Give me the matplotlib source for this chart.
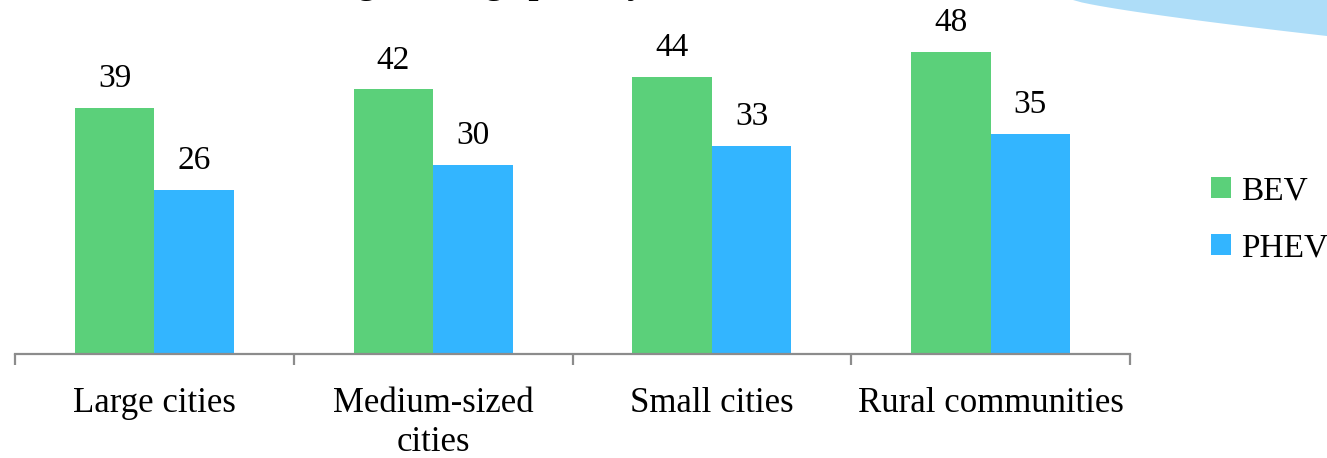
import matplotlib
matplotlib.use('Agg')
import matplotlib.pyplot as plt
from matplotlib.patches import Polygon
import numpy as np

# data
categories = ['Large cities', 'Medium-sized\ncities', 'Small cities', 'Rural communities']
bev = [39, 42, 44, 48]
phev = [26, 30, 33, 35]

GREEN = '#5BD07A'
BLUE = '#33B5FF'

plt.rcParams['font.family'] = ['Liberation Serif', 'DejaVu Serif']

W, H = 1327, 458
fig = plt.figure(figsize=(W / 100, H / 100), dpi=100)

# decorative swoosh in the top right corner (figure pixels -> fraction)
sx = np.linspace(1073, W, 30)
sy = 36 * ((sx - 1073) / (W - 1073)) ** 0.8
pts = [(x / W, 1 - y / H) for x, y in zip(sx, sy)] + [(1, 1)]
fig.patches.append(Polygon(pts, closed=True, transform=fig.transFigure,
                           facecolor='#AEDDF8', edgecolor='none'))

# title is mostly cut off at the top of the picture
fig.text(266 / W, 1 + 7 / H, 'Average mileage per day, km', fontsize=26,
         fontweight='bold', va='baseline', ha='left')

ax = fig.add_axes([15 / W, (H - 354) / H, (1130 - 15) / W, 354 / H])
x = np.arange(len(categories))
bw = 0.285
b1 = ax.bar(x - bw / 2, bev, bw, color=GREEN, label='BEV')
b2 = ax.bar(x + bw / 2, phev, bw, color=BLUE, label='PHEV')

for bars in (b1, b2):
    for r in bars:
        ax.annotate(f'{r.get_height():.0f}', (r.get_x() + r.get_width() / 2, r.get_height()),
                    xytext=(0, 10), textcoords='offset points', ha='center', va='bottom',
                    fontsize=24)

ax.set_xlim(-0.5, 3.5)
ax.set_ylim(0, 56.2)
ax.set_yticks([])
for s in ('top', 'right', 'left'):
    ax.spines[s].set_visible(False)
ax.spines['bottom'].set_color('#8C8C8C')
ax.spines['bottom'].set_linewidth(1.6)

ax.set_xticks(x)
ax.set_xticklabels(categories, fontsize=25, linespacing=1.22, va='top')
ax.tick_params(axis='x', which='major', length=0, pad=24)
ax.set_xticks(np.arange(-0.5, 4, 1), minor=True)
ax.tick_params(axis='x', which='minor', length=8, width=1.6, color='#8C8C8C', direction='out')

leg = fig.legend(handles=[b1, b2], loc='upper left', bbox_to_anchor=(1194 / W, 1 - 159 / H),
                 frameon=False, fontsize=24, handlelength=0.6, handleheight=0.6,
                 handletextpad=0.3, labelspacing=0.8, borderpad=0)

fig.savefig('out.png', dpi=100)
